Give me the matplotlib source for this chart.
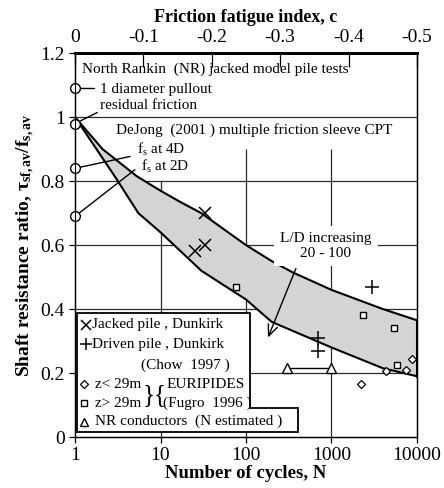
import numpy as np
import matplotlib
matplotlib.use("Agg")
import matplotlib.pyplot as plt
from matplotlib.patches import Polygon

plt.rcParams["font.family"] = ["Liberation Serif", "DejaVu Serif"]
plt.rcParams["mathtext.fontset"] = "custom"
plt.rcParams["mathtext.rm"] = "Liberation Serif"
plt.rcParams["mathtext.it"] = "Liberation Serif:italic"
plt.rcParams["mathtext.bf"] = "Liberation Serif:bold"

# band limits
upper_n = [1, 2.1, 5.3, 10, 17, 30, 100, 200, 350, 1000, 4000, 10000]
upper_r = [1.0, 0.90, 0.815, 0.77, 0.735, 0.70, 0.60, 0.55, 0.515, 0.46, 0.40, 0.365]
lower_n = [1, 3, 5.5, 10, 30, 100, 200, 1000, 4000, 10000]
lower_r = [1.0, 0.81, 0.70, 0.64, 0.52, 0.43, 0.36, 0.28, 0.215, 0.19]

# data points
jacked_n = [25, 33, 33]
jacked_r = [0.58, 0.60, 0.70]
driven_n = [700, 700, 3000]
driven_r = [0.27, 0.31, 0.47]
z_lt29_n = [2200, 4400, 7400, 8700]
z_lt29_r = [0.165, 0.205, 0.21, 0.245]
z_gt29_n = [76, 2340, 5400, 5800]
z_gt29_r = [0.47, 0.38, 0.34, 0.225]
nr_n = [300, 1000]
nr_r = [0.215, 0.215]
model_r = [1.09, 0.98, 0.84, 0.69]   # circles at N = 1

y_ticks = [0, 0.2, 0.4, 0.6, 0.8, 1.0, 1.2]
y_labels = ["0", "0.2", "0.4", "0.6", "0.8", "1", "1.2"]
x_ticks = [1, 10, 100, 1000, 10000]
c_ticks = [0, -0.1, -0.2, -0.3, -0.4, -0.5]

fig = plt.figure(figsize=(4.44, 4.88), dpi=100)
ax = fig.add_axes([0.169, 0.1045, 0.770, 0.7865])
ax.set_xscale("log")
ax.set_xlim(1, 10000)
ax.set_ylim(0, 1.2)

# grid
for v in [0.2, 0.4, 0.6, 0.8, 1.0]:
    ax.axhline(v, color="#2a2a2a", lw=0.9, zorder=1)
ax.vlines([10, 100, 1000], 0, [0.8, 0.9, 0.9], color="#2a2a2a", lw=0.9, zorder=1)

# shaded band
poly_n = upper_n + lower_n[::-1]
poly_r = upper_r + lower_r[::-1]
ax.fill(poly_n, poly_r, facecolor="#d4d4d4", edgecolor="none", zorder=2)
ax.plot(upper_n, upper_r, color="black", lw=1.5, zorder=3)
ax.plot(lower_n, lower_r, color="black", lw=1.5, zorder=3)
ax.plot([upper_n[-1], lower_n[-1]], [upper_r[-1], lower_r[-1]], color="black", lw=2.2, zorder=3)

# points
ax.plot(jacked_n, jacked_r, "x", color="black", ms=9, mew=1.1, zorder=4)
ax.plot(driven_n, driven_r, "+", color="black", ms=10, mew=1.1, zorder=4)
ax.plot(z_lt29_n, z_lt29_r, "D", mfc="white", mec="black", ms=4.5, mew=0.9, zorder=4)
ax.plot(z_gt29_n, z_gt29_r, "s", mfc="white", mec="black", ms=5, mew=1.0, zorder=4)
ax.plot(nr_n, nr_r, "^-", color="black", mfc="white", ms=7, mew=1.0, lw=1.0, zorder=4)
ax.plot([1] * len(model_r), model_r, "o", mfc="white", mec="black", ms=7, mew=1.0,
        clip_on=False, zorder=6)

# annotations
fs = 11
box = dict(facecolor="white", edgecolor="none", pad=1.5)
ax.text(1.21, 1.151, "North Rankin  (NR) jacked model pile tests", fontsize=fs,
        va="center", ha="left", zorder=5)
ax.annotate("1 diameter pullout", xy=(1, 1.09), xytext=(1.96, 1.088), fontsize=fs,
            va="center", ha="left", zorder=5,
            arrowprops=dict(arrowstyle="-", color="black", lw=1, shrinkA=2, shrinkB=4))
ax.annotate("residual friction", xy=(1, 0.98), xytext=(1.96, 1.035), fontsize=fs,
            va="center", ha="left", zorder=5,
            arrowprops=dict(arrowstyle="-", color="black", lw=1, shrinkA=0, shrinkB=0,
                            relpos=(0, 0.1)))
ax.text(3.0, 0.96, "DeJong  (2001 ) multiple friction sleeve CPT", fontsize=fs,
        va="center", ha="left", bbox=box, zorder=5)
ax.annotate(r"f$_\mathrm{s}$ at 4D", xy=(1, 0.84), xytext=(5.3, 0.898), fontsize=fs,
            va="center", ha="left", zorder=5,
            arrowprops=dict(arrowstyle="-", color="black", lw=1, shrinkA=3, shrinkB=4))
ax.annotate(r"f$_\mathrm{s}$ at 2D", xy=(1, 0.69), xytext=(5.9, 0.845), fontsize=fs,
            va="center", ha="left", zorder=5,
            arrowprops=dict(arrowstyle="-", color="black", lw=1, shrinkA=3, shrinkB=4,
                            relpos=(0, 0.6)))

ax.text(860, 0.597, "L/D increasing\n20 - 100", fontsize=fs, ha="center", va="center",
        linespacing=1.2, zorder=5,
        bbox=dict(facecolor="white", edgecolor="none", boxstyle="square,pad=0.4"))
ax.annotate("", xy=(176, 0.303), xytext=(395, 0.535), zorder=5,
            arrowprops=dict(arrowstyle="->,head_length=0.8,head_width=0.35",
                            color="black", lw=1))

# legend box drawn by hand
lg = Polygon([(0.0067, 0.3224), (0.5117, 0.3224), (0.5117, 0.0764), (0.653, 0.0764),
              (0.653, 0.0122), (0.0067, 0.0122)], closed=True, transform=ax.transAxes,
             facecolor="white", edgecolor="black", lw=1.3, zorder=7)
ax.add_patch(lg)
lfs = 11
kw = dict(transform=ax.transAxes, clip_on=False, zorder=8)
ax.plot([0.032], [0.292], "x", color="black", ms=7, mew=1.1, **kw)
ax.text(0.049, 0.292, "Jacked pile , Dunkirk", fontsize=lfs, va="center", **kw)
ax.plot([0.032], [0.2416], "+", color="black", ms=8, mew=1.1, **kw)
ax.text(0.049, 0.2416, "Driven pile , Dunkirk", fontsize=lfs, va="center", **kw)
ax.text(0.323, 0.1876, "(Chow  1997 )", fontsize=lfs, va="center", ha="center", **kw)
ax.plot([0.026], [0.137], "D", mfc="white", mec="black", ms=4.5, mew=0.9, **kw)
ax.text(0.058, 0.137, "z< 29m", fontsize=lfs, va="center", **kw)
ax.plot([0.026], [0.088], "s", mfc="white", mec="black", ms=5, mew=1.0, **kw)
ax.text(0.058, 0.088, "z> 29m", fontsize=lfs, va="center", **kw)
ax.text(0.234, 0.109, "}{", fontsize=18, va="center", ha="center", **kw)
ax.text(0.268, 0.1355, "EURIPIDES", fontsize=lfs, va="center", **kw)
ax.text(0.257, 0.0886, "(Fugro  1996 )", fontsize=lfs, va="center", **kw)
ax.plot([0.026], [0.040], "^", mfc="white", mec="black", ms=6, mew=1.0, **kw)
ax.text(0.058, 0.040, "NR conductors  (N estimated )", fontsize=lfs, va="center", **kw)

# axes styling
ax.set_xticks(x_ticks)
ax.set_xticklabels([str(t) for t in x_ticks])
ax.minorticks_off()
ax.set_yticks(y_ticks)
ax.set_yticklabels(y_labels)
ax.tick_params(axis="both", labelsize=14, direction="out", length=4, width=0.9)
ax.tick_params(axis="x", pad=3)
ax.set_xlabel("Number of cycles, N", fontsize=13.5, fontweight="bold", labelpad=1)
ax.set_ylabel(r"Shaft resistance ratio, $\mathbf{\tau}_{\mathbf{sf,av}}\mathbf{/f}_{\mathbf{s,av}}$",
              fontsize=14, fontweight="bold", labelpad=2)
ax.spines["top"].set_linewidth(2.0)
for s in ["left", "bottom", "right"]:
    ax.spines[s].set_linewidth(1.0)

ax2 = ax.twiny()
ax2.set_xlim(0, -0.5)
ax2.set_xticks(c_ticks)
ax2.set_xticklabels(["0", "-0.1", "-0.2", "-0.3", "-0.4", "-0.5"])
ax2.tick_params(axis="x", labelsize=14, direction="in", length=10, width=0.9, pad=5)
ax2.set_xlabel("Friction fatigue index, c", fontsize=13, fontweight="bold", labelpad=5)
ax2.spines["top"].set_linewidth(2.0)

fig.savefig("out.png", dpi=100)
